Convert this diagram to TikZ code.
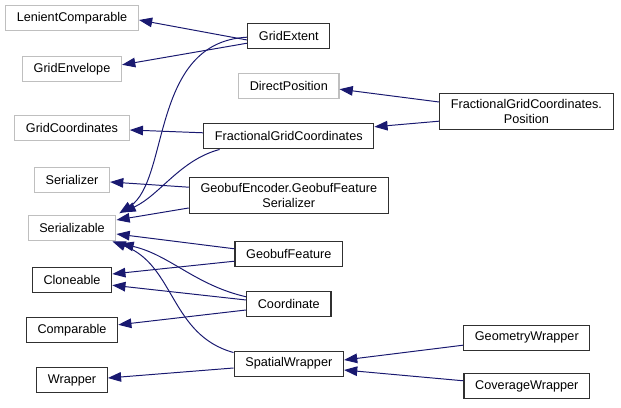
\documentclass[tikz,border=0pt]{standalone}
\usepackage{fontspec}
\setmainfont{Liberation Sans}
\usepackage{xcolor}
\usepackage{tikz}
\usetikzlibrary{arrows.meta,positioning}
\definecolor{cEdge}{HTML}{191970}
\definecolor{cExt}{HTML}{BFBFBF}
\definecolor{cCls}{HTML}{303030}
\tikzset{
  cls/.style   = {rectangle, draw=#1, fill=white, line width=0.8pt, align=center,
                  inner xsep=0.28cm, inner ysep=0.14cm, minimum height=0.625cm,
                  font=\fontsize{9}{11}\selectfont},
  cls/.default = cCls,
  ext/.style   = {cls=cExt},
  inh/.style   = {-{Triangle[length=0.33cm, width=0.24cm]}, draw=cEdge, line width=0.7pt},
}

\begin{document}
\begin{tikzpicture}
  \useasboundingbox (0,0) rectangle (15.525,-10.2);
  % left column
  \node[ext] (lenient)      at (1.8,-0.46) {LenientComparable};
  \node[ext] (genvelope)    at (1.8,-1.72) {GridEnvelope};
  \node[ext] (gcoords)      at (1.8,-3.19) {GridCoordinates};
  \node[ext] (serializer)   at (1.8,-4.49) {Serializer};
  \node[ext] (serializable) at (1.8,-5.71) {Serializable};
  \node[cls] (cloneable)    at (1.8,-6.99) {Cloneable};
  \node[cls] (comparable)   at (1.8,-8.25) {Comparable};
  \node[cls] (wrapper)      at (1.8,-9.51) {Wrapper};
  % middle column
  \node[cls] (gextent)   at (7.22,-0.89) {GridExtent};
  \node[ext] (dpos)      at (7.22,-2.14) {DirectPosition};
  \node[cls] (fgc)       at (7.22,-3.41) {FractionalGridCoordinates};
  \node[cls] (gbser)     at (7.22,-4.89) {GeobufEncoder.GeobufFeature\\Serializer};
  \node[cls] (gbfeature) at (7.22,-6.35) {GeobufFeature};
  \node[cls] (coord)     at (7.22,-7.61) {Coordinate};
  \node[cls] (swrapper)  at (7.22,-9.09) {SpatialWrapper};
  % right column
  \node[cls] (fgcpos) at (13.16,-2.79) {FractionalGridCoordinates.\\Position};
  \node[cls] (geomw)  at (13.17,-8.44) {GeometryWrapper};
  \node[cls] (covw)   at (13.17,-9.66) {CoverageWrapper};

  \draw[inh] ([yshift=-0.11cm]gextent.west) -- ([yshift=-0.04cm]lenient.east);
  \draw[inh] ([yshift=-0.19cm]gextent.west) -- ([yshift=0.1cm]genvelope.east);
  \draw[inh] ([yshift=-0.04cm]gextent.west) .. controls (3.75,-1.05) and (4.25,-4.5) .. ([xshift=0.07cm,yshift=0.05cm]serializable.north east);
  \draw[inh] ([yshift=0.24cm]fgcpos.west) -- ([yshift=-0.09cm]dpos.east);
  \draw[inh] ([yshift=-0.24cm]fgcpos.west) -- ([yshift=0.24cm]fgc.east);
  \draw[inh] ([yshift=0.09cm]fgc.west) -- ([yshift=-0.06cm]gcoords.east);
  \draw[inh] ([xshift=-1.73cm]fgc.south) .. controls (4.5,-4.0) and (4.0,-4.875) .. ([xshift=0.15cm,yshift=0.07cm]serializable.north east);
  \draw[inh] ([yshift=0.21cm]gbser.west) -- ([yshift=-0.06cm]serializer.east);
  \draw[inh] ([yshift=-0.31cm]gbser.west) -- ([yshift=0.21cm]serializable.east);
  \draw[inh] ([yshift=0.13cm]gbfeature.west) -- ([yshift=-0.14cm]serializable.east);
  \draw[inh] ([yshift=-0.18cm]gbfeature.west) -- ([yshift=0.14cm]cloneable.east);
  \draw[inh] ([yshift=0.19cm]coord.west) .. controls (4.875,-7.125) and (4.25,-6.375) .. ([xshift=0.1cm,yshift=-0.05cm]serializable.south east);
  \draw[inh] ([yshift=0.11cm]coord.west) -- ([yshift=-0.14cm]cloneable.east);
  \draw[inh] ([yshift=-0.14cm]coord.west) -- ([yshift=0.13cm]comparable.east);
  \draw[inh] ([yshift=-0.05cm]swrapper.north west) .. controls (4.25,-8.375) and (4.375,-6.625) .. ([xshift=-0.1cm]serializable.south east);
  \draw[inh] ([yshift=-0.11cm]swrapper.west) -- ([yshift=0.06cm]wrapper.east);
  \draw[inh] ([yshift=-0.19cm]geomw.west) -- ([yshift=0.09cm]swrapper.east);
  \draw[inh] ([yshift=0.14cm]covw.west) -- ([yshift=-0.16cm]swrapper.east);
\end{tikzpicture}
\end{document}
